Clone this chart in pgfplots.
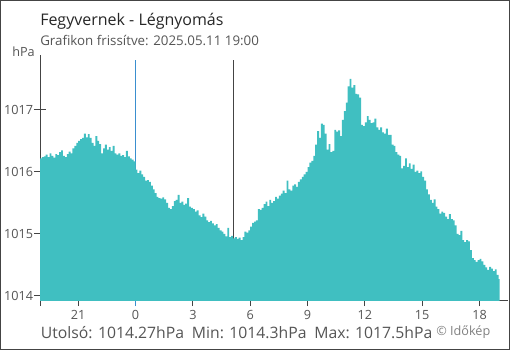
\documentclass[border=0pt]{standalone}
\usepackage{pgfplots}
\pgfplotsset{compat=1.18}
\usepackage{fontspec}
\setmainfont{Open Sans}
\definecolor{barc}{HTML}{40BFC1}
\definecolor{midblue}{HTML}{3A8FCF}
\definecolor{axgray}{HTML}{444444}
\definecolor{txtgray}{HTML}{555555}
\begin{document}
\begin{tikzpicture}
\useasboundingbox (0,0) rectangle (382.5pt,-262.5pt);
\draw[axgray, line width=0.9pt] (0.45pt,-0.45pt) rectangle (382.05pt,-262.05pt);
\node[anchor=base west, font=\fontsize{12}{14}\selectfont, text=black!85, inner sep=0] at (30pt,-18.75pt) {Fegyvernek - Légnyomás};
\node[anchor=base west, font=\fontsize{10}{12}\selectfont, text=txtgray, inner sep=0] at (30pt,-34pt) {Grafikon frissítve: 2025.05.11 19:00};
\node[anchor=base east, font=\fontsize{9.5}{11}\selectfont, text=txtgray, inner sep=0] at (26.25pt,-42pt) {hPa};
\node[anchor=base west, font=\fontsize{11.8}{14}\selectfont, text=txtgray, inner sep=0] at (30.5pt,-254.2pt) {Utolsó: 1014.27hPa\hspace{0.5em}Min: 1014.3hPa\hspace{0.5em}Max: 1017.5hPa};
\node[anchor=base west, font=\fontsize{9.5}{12}\selectfont, text=black!50, inner sep=0] at (327pt,-251.5pt) {© Időkép};
\begin{axis}[
  at={(30pt,-225pt)}, anchor=south west, scale only axis,
  width=351pt, height=183.75pt,
  xmin=-5, xmax=19.49, ymin=1013.935, ymax=1017.887,
  axis lines*=left,
  axis line style={axgray, line width=0.75pt, -},
  tick style={axgray, line width=0.75pt},
  tick align=center, major tick length=9pt,
  xtick={-5,-3,3,6,9,12,15,18},
  xticklabels={,21,3,6,9,12,15,18},
  extra x ticks={0}, extra x tick labels={0},
  extra x tick style={major tick style={draw=midblue}},
  ytick={1014,1015,1016,1017},
  yticklabels={1014,1015,1016,1017},
  ticklabel style={font=\fontsize{9.5}{11}\selectfont, text=txtgray},
  yticklabel style={inner xsep=0.5pt},
  clip=true,
]
\addplot[midblue, line width=0.75pt] coordinates {(0,1017.806) (0,1013.94)};
\addplot[axgray, line width=0.75pt] coordinates {(5.12,1017.806) (5.12,1013.94)};
\addplot[fill=barc, draw=none, const plot mark left] coordinates {
(-5,1013.9)
(-5.0,1016.22) (-4.9,1016.24) (-4.8,1016.25) (-4.7,1016.28) (-4.6,1016.24) (-4.5,1016.30) (-4.4,1016.26) (-4.3,1016.23) (-4.2,1016.29) (-4.1,1016.27)
(-4.0,1016.32) (-3.9,1016.35) (-3.8,1016.26) (-3.7,1016.24) (-3.6,1016.29) (-3.5,1016.33) (-3.4,1016.30) (-3.3,1016.38) (-3.2,1016.42) (-3.1,1016.47)
(-3.0,1016.50) (-2.9,1016.53) (-2.8,1016.55) (-2.7,1016.62) (-2.6,1016.56) (-2.5,1016.61) (-2.4,1016.55) (-2.3,1016.47) (-2.2,1016.42) (-2.1,1016.58)
(-2.0,1016.50) (-1.9,1016.45) (-1.8,1016.30) (-1.7,1016.38) (-1.6,1016.44) (-1.5,1016.36) (-1.4,1016.40) (-1.3,1016.34) (-1.2,1016.42) (-1.1,1016.30)
(-1.0,1016.28) (-0.9,1016.30) (-0.8,1016.26) (-0.7,1016.27) (-0.6,1016.24) (-0.5,1016.34) (-0.4,1016.25) (-0.3,1016.22) (-0.2,1016.20) (-0.1,1016.17)
(0.0,1016.04) (0.1,1015.98) (0.2,1016.02) (0.3,1015.96) (0.4,1015.92) (0.5,1015.86) (0.6,1015.87) (0.7,1015.84) (0.8,1015.78) (0.9,1015.72)
(1.0,1015.66) (1.1,1015.60) (1.2,1015.58) (1.3,1015.57) (1.4,1015.59) (1.5,1015.56) (1.6,1015.50) (1.7,1015.42) (1.8,1015.40) (1.9,1015.45)
(2.0,1015.53) (2.1,1015.55) (2.2,1015.63) (2.3,1015.50) (2.4,1015.52) (2.5,1015.47) (2.6,1015.49) (2.7,1015.58) (2.8,1015.44) (2.9,1015.42)
(3.0,1015.40) (3.1,1015.36) (3.2,1015.38) (3.3,1015.30) (3.4,1015.27) (3.5,1015.33) (3.6,1015.28) (3.7,1015.22) (3.8,1015.19) (3.9,1015.21)
(4.0,1015.17) (4.1,1015.14) (4.2,1015.16) (4.3,1015.10) (4.4,1015.06) (4.5,1015.04) (4.6,1015.00) (4.7,1014.96) (4.8,1015.10) (4.9,1014.95)
(5.0,1014.97) (5.1,1014.93) (5.2,1014.95) (5.3,1014.92) (5.4,1014.94) (5.5,1014.90) (5.6,1014.95) (5.7,1015.04) (5.8,1015.02) (5.9,1015.06)
(6.0,1015.12) (6.1,1015.18) (6.2,1015.20) (6.3,1015.22) (6.4,1015.40) (6.5,1015.39) (6.6,1015.42) (6.7,1015.48) (6.8,1015.52) (6.9,1015.45)
(7.0,1015.55) (7.1,1015.50) (7.2,1015.53) (7.3,1015.60) (7.4,1015.57) (7.5,1015.62) (7.6,1015.65) (7.7,1015.70) (7.8,1015.66) (7.9,1015.86)
(8.0,1015.72) (8.1,1015.70) (8.2,1015.78) (8.3,1015.80) (8.4,1015.76) (8.5,1015.84) (8.6,1015.88) (8.7,1015.92) (8.8,1015.96) (8.9,1016.00)
(9.0,1016.08) (9.1,1016.15) (9.2,1016.18) (9.3,1016.26) (9.4,1016.44) (9.5,1016.66) (9.6,1016.55) (9.7,1016.78) (9.8,1016.76) (9.9,1016.62)
(10.0,1016.36) (10.1,1016.45) (10.2,1016.32) (10.3,1016.34) (10.4,1016.68) (10.5,1016.65) (10.6,1016.67) (10.7,1016.58) (10.8,1016.84) (10.9,1016.98)
(11.0,1017.12) (11.1,1017.38) (11.2,1017.50) (11.3,1017.36) (11.4,1017.40) (11.5,1017.26) (11.6,1017.25) (11.7,1017.20) (11.8,1016.76) (11.9,1016.74)
(12.0,1016.80) (12.1,1016.90) (12.2,1016.84) (12.3,1016.79) (12.4,1016.80) (12.5,1016.86) (12.6,1016.72) (12.7,1016.68) (12.8,1016.72) (12.9,1016.64)
(13.0,1016.62) (13.1,1016.70) (13.2,1016.60) (13.3,1016.60) (13.4,1016.44) (13.5,1016.42) (13.6,1016.32) (13.7,1016.28) (13.8,1016.26) (13.9,1016.06)
(14.0,1016.10) (14.1,1016.22) (14.2,1016.08) (14.3,1016.14) (14.4,1016.05) (14.5,1016.12) (14.6,1016.00) (14.7,1016.02) (14.8,1015.98) (14.9,1016.01)
(15.0,1015.92) (15.1,1015.86) (15.2,1015.72) (15.3,1015.64) (15.4,1015.55) (15.5,1015.50) (15.6,1015.56) (15.7,1015.44) (15.8,1015.40) (15.9,1015.33)
(16.0,1015.36) (16.1,1015.34) (16.2,1015.28) (16.3,1015.24) (16.4,1015.32) (16.5,1015.24) (16.6,1015.22) (16.7,1015.14) (16.8,1015.00) (16.9,1014.98)
(17.0,1015.05) (17.1,1014.90) (17.2,1014.87) (17.3,1014.90) (17.4,1014.88) (17.5,1014.74) (17.6,1014.61) (17.7,1014.58) (17.8,1014.55) (17.9,1014.58)
(18.0,1014.60) (18.1,1014.56) (18.2,1014.50) (18.3,1014.46) (18.4,1014.42) (18.5,1014.47) (18.6,1014.44) (18.7,1014.40) (18.8,1014.43) (18.9,1014.34)
(19.0,1014.27) (19.05,1014.27)
(19.05,1013.9)
};
\end{axis}
\end{tikzpicture}
\end{document}
